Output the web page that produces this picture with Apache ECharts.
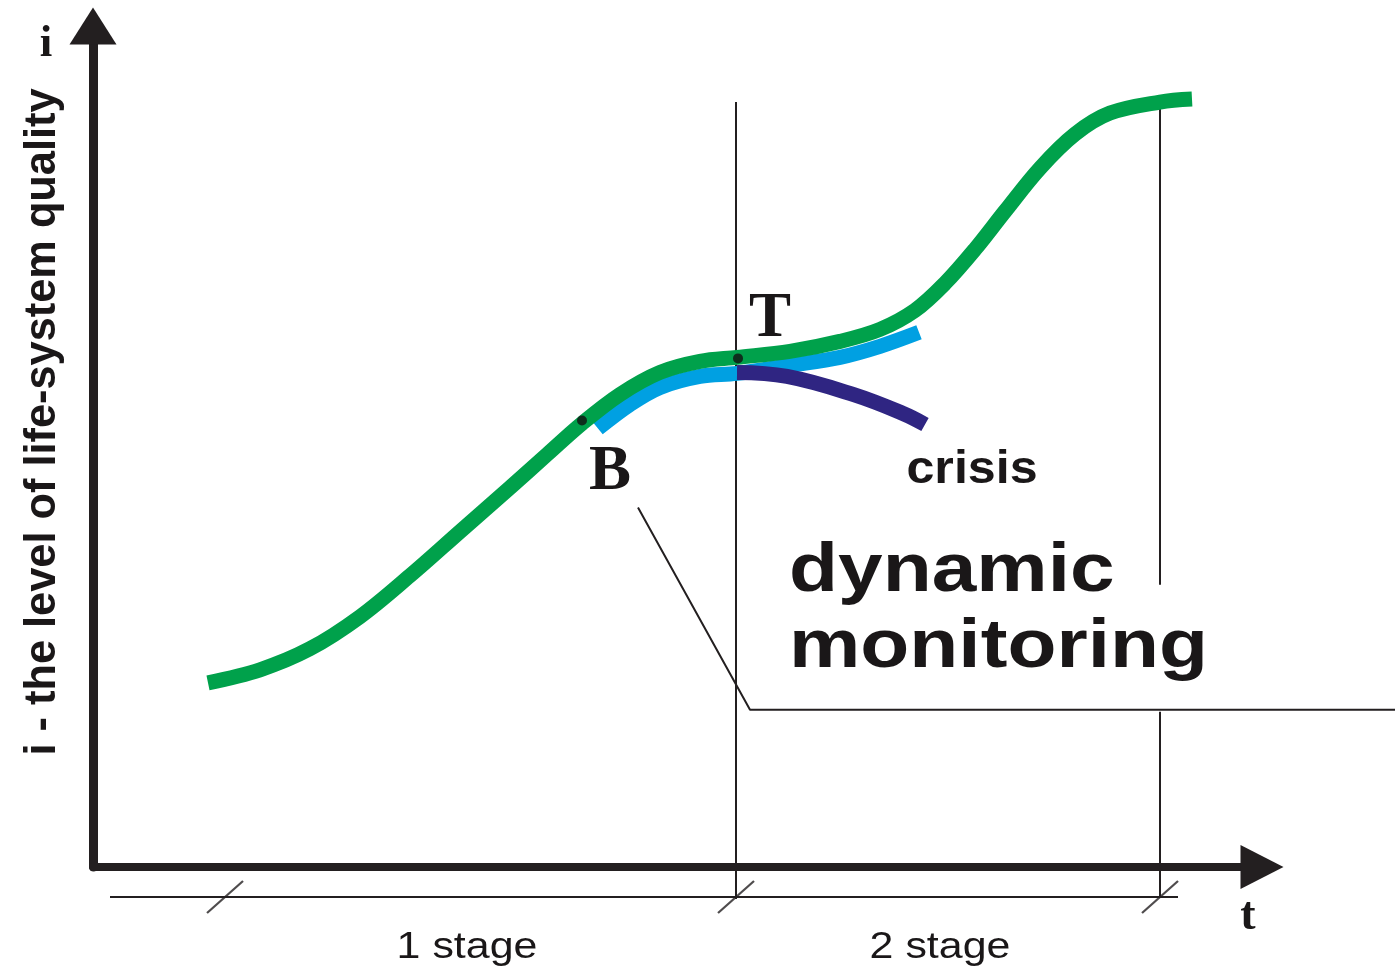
<!DOCTYPE html>
<html>
<head>
<meta charset="utf-8">
<script src="https://cdn.jsdelivr.net/npm/echarts@6/dist/echarts.min.js"></script>
<style>
  html, body { margin: 0; padding: 0; background: #ffffff; }
  #chart { width: 1395px; height: 969px; }
</style>
</head>
<body>
<div id="chart"></div>
<script>
// ---- data (t = time units, i = quality level units) ----
const greenCurve = [
  [115,184],[167,197],[217,218],[267,250],[317,291],[367,335],[417,379],[454,412],
  [489,443],[527,472],[567,494],[607,505],[644,509],[697,515],[747,525],[787,537],
  [822,556],[852,583],[882,617],[912,655],[947,698],[982,732],[1017,753],[1067,764],[1099,767]
];
const stableBand = [
  [505,438],[537,462],[567,479],[607,490],[644,493],[697,501],[747,509],[787,520],[826,534]
];
const crisisCurve = [
  [644,494],[694,490],[760,472],[810,453],[832,442]
];
const keyPoints = [[489,446],[645,508]];
const stageBounds = [132, 643, 1067];
const stageLabels = ['1 stage', '2 stage'];
const rulerLevel = -30;
const rulerSpan = [17, 1085];
const guideSegments = [
  [[643,-32],[643,764]],
  [[1067,-30],[1067,155]],
  [[1067,282],[1067,757]]
];
const calloutLine = [[545,359],[657,157],[1302,157]];

const INK = '#231f20';
const chart = echarts.init(document.getElementById('chart'), null, { renderer: 'canvas' });

// grid 0: the drawn axes; grid 1: same scale, reaching the right edge of the page
const G1 = { xAxisIndex: 1, yAxisIndex: 1 };
const series = [];
guideSegments.forEach(seg => series.push(Object.assign({
  type: 'line', data: seg, symbol: 'none', clip: false, silent: true, z: 1,
  lineStyle: { color: INK, width: 2 }
}, G1)));
series.push(Object.assign({
  type: 'line', data: calloutLine, symbol: 'none', clip: false, silent: true, z: 1,
  lineStyle: { color: INK, width: 2 }
}, G1));
series.push(Object.assign({
  type: 'line', data: rulerSpan.map(t => [t, rulerLevel]), symbol: 'none', clip: false, silent: true, z: 1,
  lineStyle: { color: INK, width: 2 }
}, G1));
series.push(Object.assign({
  type: 'scatter', data: stageBounds.map(t => [t, rulerLevel]), clip: false, silent: true, z: 2,
  symbol: 'path://M0,32 L36,0', symbolSize: [36, 32],
  itemStyle: { color: 'none', borderColor: INK, borderWidth: 2 }
}, G1));
series.push({
  type: 'line', data: stableBand, symbol: 'none', smooth: 0.35, z: 3,
  lineStyle: { color: '#00a0e2', width: 15, cap: 'butt' }
});
series.push({
  type: 'line', data: crisisCurve, symbol: 'none', smooth: 0.4, z: 4,
  lineStyle: { color: '#2f2582', width: 15, cap: 'butt' }
});
series.push({
  type: 'line', data: greenCurve, symbol: 'none', smooth: 0.35, z: 5,
  lineStyle: { color: '#00a14b', width: 15, cap: 'butt' }
});
series.push({
  type: 'scatter', data: keyPoints, symbolSize: 10, z: 6,
  itemStyle: { color: '#111111' }
});

function txt(text, x, y, font, opts) {
  opts = opts || {};
  return {
    type: 'text', x: x, y: y, z: 100,
    rotation: opts.rotation || 0,
    scaleX: opts.scaleX || 1,
    style: {
      text: text, font: font, fill: '#1a1718',
      textAlign: opts.align || 'center', align: opts.align || 'center',
      textVerticalAlign: 'middle', verticalAlign: 'middle'
    }
  };
}
const SERIF = '"Liberation Serif", "Times New Roman", serif';
const SANS = '"Liberation Sans", Arial, sans-serif';

const graphics = [
  txt('i', 46, 44, 'bold 45px ' + SERIF),
  txt('i - the level of life-system quality', 43, 422, 'bold 44px ' + SANS, { rotation: Math.PI / 2, scaleX: 0.985 }),
  txt('T', 770, 320, 'bold 63px ' + SERIF),
  txt('B', 610, 473, 'bold 63px ' + SERIF),
  txt('crisis', 972, 470, 'bold 46px ' + SANS, { scaleX: 1.09 }),
  txt('dynamic', 789, 572, 'bold 68px ' + SANS, { align: 'left', scaleX: 1.18 }),
  txt('monitoring', 789, 648, 'bold 68px ' + SANS, { align: 'left', scaleX: 1.18 }),
  txt(stageLabels[0], 467, 948, '37px ' + SANS, { scaleX: 1.16 }),
  txt(stageLabels[1], 940, 948, '37px ' + SANS, { scaleX: 1.16 }),
  txt('t', 1248, 917, 'bold 46px ' + SERIF)
];

const hiddenAxis = {
  axisLine: { show: false }, axisTick: { show: false }, axisLabel: { show: false }, splitLine: { show: false }
};

chart.setOption({
  animation: false,
  backgroundColor: '#ffffff',
  grid: [
    { left: 93, right: 133, top: 26, bottom: 102, containLabel: false },
    { left: 93, right: 0, top: 26, bottom: 102, containLabel: false }
  ],
  xAxis: [
    {
      type: 'value', min: 0, max: 1169, gridIndex: 0,
      axisLine: { show: true, onZero: false, symbol: ['none', 'triangle'], symbolSize: [44, 43],
        lineStyle: { color: INK, width: 8 } },
      axisTick: { show: false }, axisLabel: { show: false }, splitLine: { show: false }
    },
    Object.assign({ type: 'value', min: 0, max: 1302, gridIndex: 1 }, hiddenAxis)
  ],
  yAxis: [
    {
      type: 'value', min: 0, max: 840, gridIndex: 0,
      axisLine: { show: true, onZero: false, symbol: ['none', 'triangle'], symbolSize: [47, 37],
        lineStyle: { color: INK, width: 9 } },
      axisTick: { show: false }, axisLabel: { show: false }, splitLine: { show: false }
    },
    Object.assign({ type: 'value', min: 0, max: 840, gridIndex: 1 }, hiddenAxis)
  ],
  series: series,
  graphic: graphics
});
</script>
</body>
</html>
